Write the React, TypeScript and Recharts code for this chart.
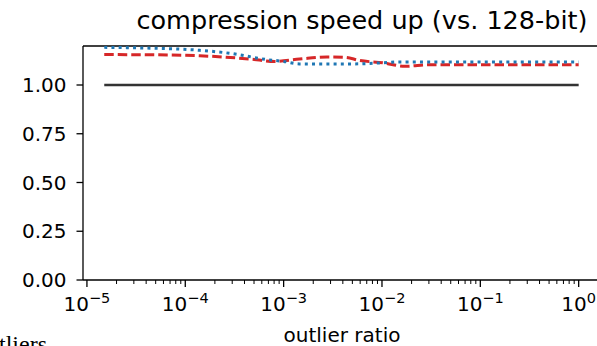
import React from 'react';
import { LineChart, Line, XAxis, YAxis, ReferenceLine } from 'recharts';

const title = 'compression speed up (vs. 128-bit)';
const xLabel = 'outlier ratio';
const pageFragment = 'tliers';

const baselineX = [1.5e-5, 1];
const baselineY = [1.0, 1.0];

const redX = [1.5e-5, 4.4e-5, 1.4e-4, 4.6e-4, 8.1e-4, 1.45e-3, 2.75e-3, 4.2e-3, 5.9e-3, 1.05e-2, 1.7e-2, 3.1e-2, 1];
const redY = [1.156, 1.155, 1.15, 1.133, 1.121, 1.133, 1.144, 1.142, 1.126, 1.113, 1.096, 1.104, 1.104];

const blueX = [1.5e-5, 4.4e-5, 1.4e-4, 3e-4, 6.8e-4, 1e-3, 1.45e-3, 5e-3, 9.5e-3, 1.5e-2, 1];
const blueY = [1.193, 1.189, 1.178, 1.161, 1.13, 1.121, 1.108, 1.108, 1.113, 1.118, 1.118];

const majorExponents = [-5, -4, -3, -2, -1, 0];
const minorMultipliers = [2, 3, 4, 5, 6, 7, 8, 9];
const yTicks = [0, 0.25, 0.5, 0.75, 1.0];

const xDomain: [number, number] = [Math.pow(10, -5.04), Math.pow(10, 0.227)];
const yDomain: [number, number] = [0, 1.2];

const toRows = (xs: number[], ys: number[]) => xs.map((x, i) => ({ x, y: ys[i] }));
const baselineData = toRows(baselineX, baselineY);
const redData = toRows(redX, redY);
const blueData = toRows(blueX, blueY);

const xTicks: number[] = [];
for (const e of [-6, ...majorExponents]) {
  const base = Math.pow(10, e);
  if (base >= xDomain[0] && base <= xDomain[1]) xTicks.push(base);
  for (const m of minorMultipliers) {
    const v = m * base;
    if (v >= xDomain[0] && v <= xDomain[1]) xTicks.push(v);
  }
}
xTicks.sort((a, b) => a - b);

const FONT = "'DejaVu Sans', sans-serif";

const XTick = (props: any) => {
  const { x, y, payload } = props;
  const v = payload.value as number;
  const lg = Math.log10(v);
  const major = Math.abs(lg - Math.round(lg)) < 1e-6;
  const exp = Math.round(lg);
  const expLabel = exp < 0 ? `\u2212${Math.abs(exp)}` : `${exp}`;
  return (
    <g>
      <line x1={x} x2={x} y1={y} y2={y + (major ? 7 : 4)} stroke="#000" strokeWidth={major ? 1.3 : 1} />
      {major && (
        <text x={x} y={y + 31} textAnchor="middle" fontFamily={FONT} fontSize={20} fill="#000">
          <tspan>10</tspan>
          <tspan dy={-8} fontSize={14.5}>{expLabel}</tspan>
        </text>
      )}
    </g>
  );
};

export default function App() {
  return (
    <div style={{ position: 'absolute', left: 0, top: 0, width: 597, height: 346, overflow: 'hidden', background: '#fff' }}>
      <LineChart width={605} height={346} margin={{ top: 46, right: 4, bottom: 0, left: 0 }}>
        <XAxis
          dataKey="x"
          type="number"
          scale="log"
          domain={xDomain}
          allowDataOverflow
          ticks={xTicks}
          interval={0}
          tick={<XTick />}
          tickLine={false}
          tickSize={0}
          tickMargin={0}
          height={66}
          axisLine={{ stroke: '#000', strokeWidth: 1.3 }}
          label={{ value: xLabel, position: 'insideBottom', offset: 4, fill: '#000', fontSize: 20, fontFamily: FONT }}
        />
        <YAxis
          type="number"
          domain={yDomain}
          allowDataOverflow
          ticks={yTicks}
          interval={0}
          width={83}
          tickSize={6.5}
          tickMargin={10}
          tickFormatter={(v: number) => v.toFixed(2)}
          tick={{ fill: '#000', fontSize: 20, fontFamily: FONT }}
          tickLine={{ stroke: '#000', strokeWidth: 1.3 }}
          axisLine={{ stroke: '#000', strokeWidth: 1.3 }}
        />
        <ReferenceLine y={yDomain[1]} stroke="#000" strokeWidth={1.3} ifOverflow="visible" />
        <ReferenceLine x={xDomain[1]} stroke="#000" strokeWidth={1.3} ifOverflow="visible" />
        <Line data={baselineData} dataKey="y" stroke="#333333" strokeWidth={2.6} dot={false} isAnimationActive={false} />
        <Line data={redData} dataKey="y" type="monotone" stroke="#d62728" strokeWidth={3} strokeDasharray="9.5 4" dot={false} isAnimationActive={false} />
        <Line data={blueData} dataKey="y" type="monotone" stroke="#1f77b4" strokeWidth={3} strokeDasharray="3 4.2" dot={false} isAnimationActive={false} />
      </LineChart>
      <svg width={597} height={346} style={{ position: 'absolute', left: 0, top: 0, pointerEvents: 'none' }}>
        <text x={362} y={29} textAnchor="middle" fontFamily={FONT} fontSize={25.5} fill="#000">{title}</text>
        <text x={-1} y={352} fontFamily="'Liberation Serif', serif" fontSize={24} fill="#000">{pageFragment}</text>
      </svg>
    </div>
  );
}
